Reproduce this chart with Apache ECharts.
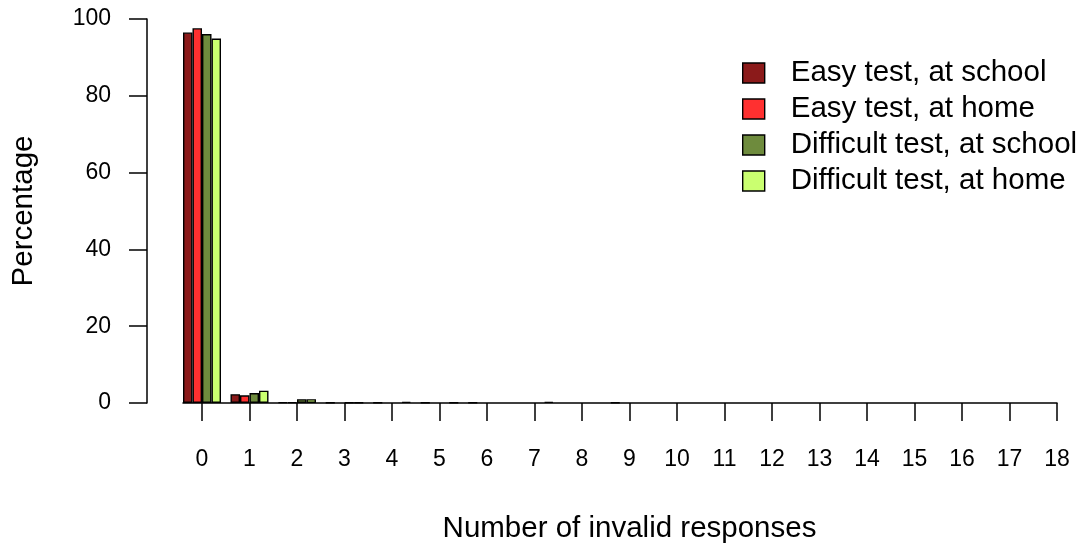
<!DOCTYPE html>
<html style="height: 100%">
   <head>
       <meta charset="utf-8">
   </head>
   <body style="height: 100%; margin: 0; background: #fff">
       <div id="container" style="width: 1087px; height: 549px"></div>
       <script type="text/javascript" src="https://cdn.jsdelivr.net/npm/echarts@6/dist/echarts.min.js"></script>
       <script type="text/javascript">
// number of invalid responses, 0..18
var counts = [0, 1, 2, 3, 4, 5, 6, 7, 8, 9, 10, 11, 12, 13, 14, 15, 16, 17, 18];
var yTicks = [0, 20, 40, 60, 80, 100];

var seriesNames = ['Easy test, at school', 'Easy test, at home',
                   'Difficult test, at school', 'Difficult test, at home'];
var seriesColors = ['#8B1A1A', '#FF3030', '#6E8B3D', '#CAFF70'];

// percentages
var easySchool     = [96.5, 2.3, 0.2, 0.1, 0.1, 0.1, 0.1, 0,   0, 0.15, 0, 0, 0, 0, 0, 0, 0, 0, 0];
var easyHome       = [97.6, 2.0, 0.2, 0,   0,   0,   0,   0,   0, 0,    0, 0, 0, 0, 0, 0, 0, 0, 0];
var difficultSchool= [96.1, 2.6, 1.0, 0.1, 0,   0,   0,   0,   0, 0,    0, 0, 0, 0, 0, 0, 0, 0, 0];
var difficultHome  = [94.9, 3.2, 1.0, 0.1, 0.3, 0.1, 0,   0.3, 0, 0,    0, 0, 0, 0, 0, 0, 0, 0, 0];

var allValues = [easySchool, easyHome, difficultSchool, difficultHome];

var FONT = '"Liberation Sans", Arial, sans-serif';
var LINE_W = 1.5;

var dom = document.getElementById('container');
var myChart = echarts.init(dom, null, {renderer: 'canvas'});

var series = [];
for (var s = 0; s < allValues.length; s++) {
    var pts = [];
    for (var i = 0; i < counts.length; i++) {
        var item = {value: [counts[i], allValues[s][i]]};
        // zero-height bars: no outline, so they don't paint over the axis
        if (allValues[s][i] === 0) {
            item.itemStyle = {borderWidth: 0};
        }
        pts.push(item);
    }
    series.push({
        name: seriesNames[s],
        type: 'bar',
        barWidth: 9.5,
        barGap: '0%',
        itemStyle: {
            color: seriesColors[s],
            borderColor: '#000',
            borderWidth: 1.4
        },
        data: pts
    });
}

var option = {
    animation: false,
    backgroundColor: '#fff',
    textStyle: {fontFamily: FONT, color: '#000'},
    grid: {left: 183, right: 30, top: 19, bottom: 146},
    legend: {
        orient: 'vertical',
        left: 742,
        top: 55,
        padding: 0,
        itemGap: 0,
        itemWidth: 22,
        itemHeight: 20,
        icon: 'rect',
        itemStyle: {borderColor: '#000', borderWidth: 1.4},
        textStyle: {
            fontFamily: FONT,
            fontSize: 29.5,
            color: '#000',
            lineHeight: 36,
            padding: [0, 0, 0, 21]
        },
        data: seriesNames
    },
    xAxis: {
        type: 'value',
        min: -0.4,
        max: 18,
        name: 'Number of invalid responses',
        nameLocation: 'middle',
        nameGap: 111,
        nameTextStyle: {fontFamily: FONT, fontSize: 29.5, color: '#000', padding: [0, 0, 0, 19]},
        splitLine: {show: false},
        axisLine: {onZero: false, lineStyle: {color: '#000', width: LINE_W}},
        axisTick: {
            length: 18,
            customValues: counts,
            lineStyle: {color: '#000', width: LINE_W}
        },
        axisLabel: {
            customValues: counts,
            margin: 45,
            fontFamily: FONT,
            fontSize: 23,
            color: '#000'
        }
    },
    yAxis: {
        type: 'value',
        min: 0,
        max: 100,
        interval: 20,
        offset: 36,
        name: 'Percentage',
        nameLocation: 'middle',
        nameGap: 108,
        nameTextStyle: {fontFamily: FONT, fontSize: 29.5, color: '#000'},
        splitLine: {show: false},
        axisLine: {show: true, onZero: false, lineStyle: {color: '#000', width: LINE_W}},
        axisTick: {show: true, length: 18, lineStyle: {color: '#000', width: LINE_W}},
        axisLabel: {
            margin: 36,
            fontFamily: FONT,
            fontSize: 23,
            color: '#000',
            formatter: function (v) { return yTicks.indexOf(v) >= 0 ? String(v) : ''; }
        }
    },
    series: series
};

myChart.setOption(option, true);
       </script>
   </body>
</html>
